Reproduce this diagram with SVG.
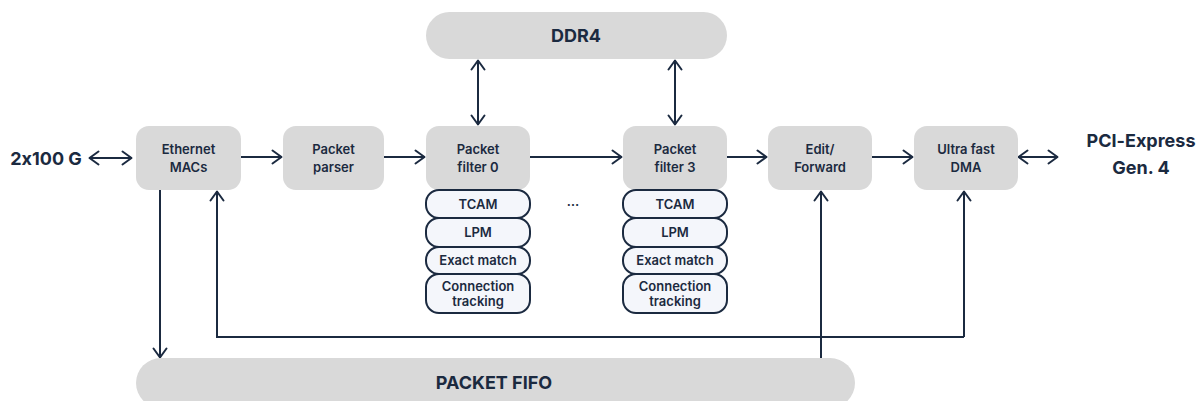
<svg xmlns="http://www.w3.org/2000/svg" width="1200" height="401" viewBox="0 0 1200 401">
<defs>
<marker id="ah" viewBox="0 0 12 16" refX="11" refY="8" markerWidth="12" markerHeight="16" markerUnits="userSpaceOnUse" orient="auto-start-reverse">
<path d="M1.5,1.5 L10.5,8 L1.5,14.5" fill="none" stroke="#1b2a40" stroke-width="2" stroke-linecap="round" stroke-linejoin="round"/>
</marker>
<style>
.box{fill:#d9d9d9;}
.sub{fill:#f4f6fb;stroke:#1b2a40;stroke-width:2;}
.t{font-family:Inter,"Liberation Sans",sans-serif;font-weight:600;fill:#1b2a40;text-anchor:middle;font-size:13px;font-feature-settings:"calt" 0;}
.tb{font-family:Inter,"Liberation Sans",sans-serif;font-weight:700;fill:#1b2a40;text-anchor:middle;font-size:18px;font-feature-settings:"calt" 0;}
.ca{fill:none;stroke:#1b2a40;stroke-width:2;marker-end:url(#ah);}
.cb{fill:none;stroke:#1b2a40;stroke-width:2;marker-end:url(#ah);marker-start:url(#ah);}
.c{fill:none;stroke:#1b2a40;stroke-width:2;}
</style>
</defs>
<rect width="1200" height="401" fill="#ffffff"/>
<g id="connectors">
<line class="cb" x1="89" y1="158" x2="132" y2="158"/>
<line class="ca" x1="241" y1="157" x2="282" y2="157"/>
<line class="ca" x1="384" y1="157" x2="425" y2="157"/>
<line class="ca" x1="530" y1="157" x2="622" y2="157"/>
<line class="ca" x1="727" y1="157" x2="767" y2="157"/>
<line class="ca" x1="872" y1="157" x2="913" y2="157"/>
<line class="cb" x1="1018" y1="157" x2="1058" y2="157"/>
<line class="cb" x1="478" y1="60" x2="478" y2="125"/>
<line class="cb" x1="675" y1="60" x2="675" y2="125"/>
<line class="ca" x1="160" y1="190" x2="160" y2="358"/>
<polyline class="c" points="964,337 217,337"/>
<line class="ca" x1="964" y1="337" x2="964" y2="191"/>
<line class="ca" x1="217" y1="338" x2="217" y2="191"/>
<line class="ca" x1="821" y1="358" x2="821" y2="191"/>
</g>
<g id="ddr4">
<rect class="box" x="426" y="12" width="301" height="47" rx="23.5"/>
<text class="tb" x="576" y="42">DDR4</text>
</g>
<g id="ext-left"><text class="tb" x="46" y="165">2x100 G</text></g>
<g id="ext-right"><text class="tb" x="1141" y="147">PCI-Express</text><text class="tb" x="1141" y="174">Gen. 4</text></g>
<g id="eth">
<rect class="box" x="136" y="126" width="105" height="64" rx="13"/>
<text class="t" x="188.5" y="154">Ethernet</text><text class="t" x="188.5" y="172">MACs</text>
</g>
<g id="parser">
<rect class="box" x="283" y="126" width="101" height="64" rx="13"/>
<text class="t" x="333.5" y="154">Packet</text><text class="t" x="333.5" y="172">parser</text>
</g>
<g id="pf0">
<rect class="box" x="426" y="126" width="104" height="64" rx="13"/>
<text class="t" x="478" y="154">Packet</text><text class="t" x="478" y="172">filter 0</text>
</g>
<g id="pf0-tables">
<rect class="sub" x="426" y="190" width="104" height="28" rx="13"/>
<text class="t" x="478" y="209">TCAM</text>
<rect class="sub" x="426" y="218" width="104" height="29" rx="13"/>
<text class="t" x="478" y="237">LPM</text>
<rect class="sub" x="426" y="247" width="104" height="27" rx="13"/>
<text class="t" x="478" y="265">Exact match</text>
<rect class="sub" x="426" y="274" width="104" height="39" rx="13"/>
<text class="t" x="478" y="291">Connection</text><text class="t" x="478" y="306">tracking</text>
</g>
<g id="ellipsis"><text class="t" x="573" y="206">…</text></g>
<g id="pf3">
<rect class="box" x="623" y="126" width="104" height="64" rx="13"/>
<text class="t" x="675" y="154">Packet</text><text class="t" x="675" y="172">filter 3</text>
</g>
<g id="pf3-tables">
<rect class="sub" x="623" y="190" width="104" height="28" rx="13"/>
<text class="t" x="675" y="209">TCAM</text>
<rect class="sub" x="623" y="218" width="104" height="29" rx="13"/>
<text class="t" x="675" y="237">LPM</text>
<rect class="sub" x="623" y="247" width="104" height="27" rx="13"/>
<text class="t" x="675" y="265">Exact match</text>
<rect class="sub" x="623" y="274" width="104" height="39" rx="13"/>
<text class="t" x="675" y="291">Connection</text><text class="t" x="675" y="306">tracking</text>
</g>
<g id="edit">
<rect class="box" x="768" y="126" width="104" height="64" rx="13"/>
<text class="t" x="820" y="154">Edit/</text><text class="t" x="820" y="172">Forward</text>
</g>
<g id="dma">
<rect class="box" x="914" y="126" width="104" height="64" rx="13"/>
<text class="t" x="966" y="154">Ultra fast</text><text class="t" x="966" y="172">DMA</text>
</g>
<g id="fifo">
<rect class="box" x="136" y="358" width="719" height="50" rx="25"/>
<text class="tb" x="494" y="389">PACKET FIFO</text>
</g>
</svg>
